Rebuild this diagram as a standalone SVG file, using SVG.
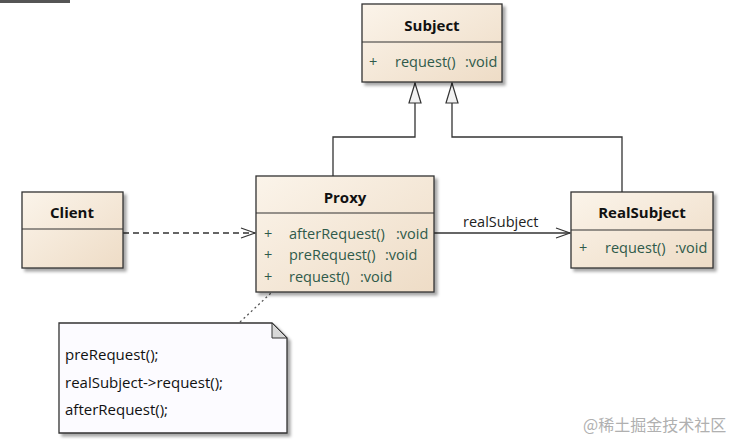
<svg xmlns="http://www.w3.org/2000/svg" width="738" height="448" viewBox="0 0 738 448">
<defs>
<linearGradient id="cls" x1="0" y1="0" x2="1" y2="1">
<stop offset="0" stop-color="#FBF4EA"/>
<stop offset="1" stop-color="#EEDCC6"/>
</linearGradient>
<filter id="sh" x="-10%" y="-10%" width="130%" height="130%">
<feDropShadow dx="3" dy="3" stdDeviation="1.5" flood-color="#000" flood-opacity="0.35"/>
</filter>
<marker id="gen" viewBox="0 0 22 14" refX="21" refY="7" markerWidth="22" markerHeight="14" markerUnits="userSpaceOnUse" orient="auto">
<path d="M21,7 L1,1 L1,13 Z" fill="#F2F2F2" stroke="#333" stroke-width="1.2"/>
</marker>
<marker id="open" viewBox="0 0 16 12" refX="15" refY="6" markerWidth="16" markerHeight="12" markerUnits="userSpaceOnUse" orient="auto">
<path d="M1,1 L15,6 L1,11" fill="none" stroke="#333" stroke-width="1.2"/>
</marker>
</defs>
<style>
.box{fill:url(#cls);stroke:#333;stroke-width:1.3;filter:url(#sh)}
.div{stroke:#333;stroke-width:1.2}
.title{font-family:"Open Sans","Noto Sans",sans-serif;font-size:15px;font-weight:bold;fill:#111;text-anchor:middle}
.m{font-family:"Open Sans","Noto Sans",sans-serif;font-size:14.5px;fill:#2F5A4A}
.note{font-family:"Open Sans","Noto Sans",sans-serif;font-size:15px;fill:#111}
.ln{fill:none;stroke:#333;stroke-width:1.3}
</style>
<rect x="0" y="0" width="70" height="3" fill="#555"/>
<g id="connectors">
<polyline class="ln" points="333,176 333,137 415,137 415,83" marker-end="url(#gen)"/>
<polyline class="ln" points="622,192 622,137 452,137 452,83" marker-end="url(#gen)"/>
<line class="ln" x1="123" y1="233" x2="255" y2="233" stroke-dasharray="6,4" marker-end="url(#open)"/>
<line class="ln" x1="434" y1="233" x2="570" y2="233" marker-end="url(#open)"/>
<text class="m" x="463" y="227" style="fill:#222">realSubject</text>
<line x1="240" y1="322" x2="271" y2="293" stroke="#555" stroke-width="1.3" stroke-dasharray="2,3"/>
</g>
<g id="subject">
<rect class="box" x="362" y="4" width="140" height="78"/>
<line class="div" x1="362" y1="42" x2="502" y2="42"/>
<text class="title" x="432" y="31">Subject</text>
<text class="m" x="369" y="67">+</text>
<text class="m" x="395" y="67">request()</text>
<text class="m" x="465" y="67">:void</text>
</g>
<g id="proxy">
<rect class="box" x="256" y="176" width="178" height="116"/>
<line class="div" x1="256" y1="213" x2="434" y2="213"/>
<text class="title" x="345" y="203">Proxy</text>
<text class="m" x="264" y="239">+</text>
<text class="m" x="289" y="239">afterRequest()</text>
<text class="m" x="396" y="239">:void</text>
<text class="m" x="264" y="260">+</text>
<text class="m" x="289" y="260">preRequest()</text>
<text class="m" x="385" y="260">:void</text>
<text class="m" x="264" y="282">+</text>
<text class="m" x="289" y="282">request()</text>
<text class="m" x="360" y="282">:void</text>
</g>
<g id="realsubject">
<rect class="box" x="571" y="192" width="142" height="76"/>
<line class="div" x1="571" y1="230" x2="713" y2="230"/>
<text class="title" x="642" y="218">RealSubject</text>
<text class="m" x="579" y="253">+</text>
<text class="m" x="605" y="253">request()</text>
<text class="m" x="675" y="253">:void</text>
</g>
<g id="client">
<rect class="box" x="22" y="192" width="101" height="76"/>
<line class="div" x1="22" y1="229" x2="123" y2="229"/>
<text class="title" x="72" y="218">Client</text>
</g>
<g id="note">
<path d="M59,323 L272,323 L287,338 L287,433 L59,433 Z" fill="#FCFBFF" stroke="#333" stroke-width="1.3" filter="url(#sh)"/>
<path d="M272,323 L272,338 L287,338 Z" fill="#D8D8D8" stroke="#333" stroke-width="1"/>
<text class="note" x="65" y="360">preRequest();</text>
<text class="note" x="65" y="388">realSubject-&gt;request();</text>
<text class="note" x="65" y="415">afterRequest();</text>
</g>
<text x="583" y="431" font-family="'Noto Sans CJK SC',sans-serif" font-size="16" fill="#B0B0B0">@稀土掘金技术社区</text>
</svg>
